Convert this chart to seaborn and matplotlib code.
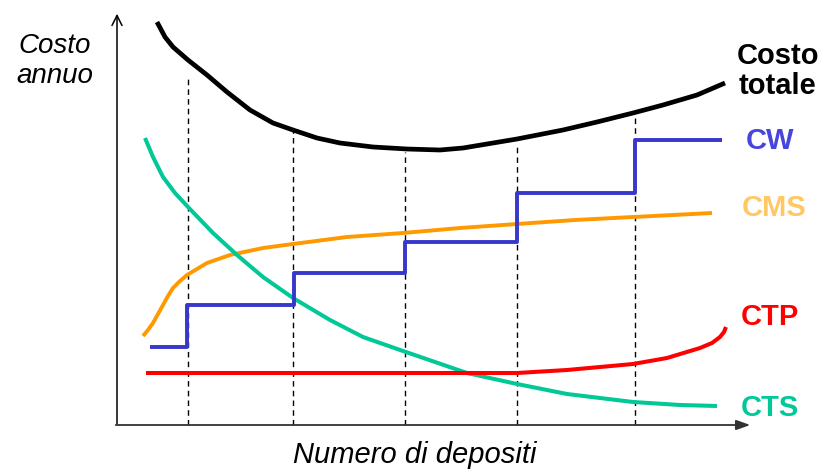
import matplotlib
matplotlib.use("Agg")
import matplotlib.pyplot as plt
import seaborn as sns
import pandas as pd

# Canvas units: x grows to the right, y grows downward (same frame as the figure)
total_x = [157, 165, 173, 188, 207, 227, 250, 273, 293, 317, 340, 373, 407, 440, 463, 517, 563, 597, 633, 663, 697, 725]
total_y = [22, 37, 47, 60, 75, 92, 110, 123, 130, 138, 143, 147, 149, 150, 148, 139, 130, 122, 113, 105, 95, 83]

cms_x = [143, 148, 153, 158, 163, 168, 173, 180, 187, 197, 207, 230, 263, 293, 347, 403, 460, 517, 575, 633, 712]
cms_y = [336, 330, 323, 314, 305, 296, 288, 281, 275, 269, 263, 255, 248, 244, 237, 233, 228, 224, 220, 217, 213]

cts_x = [145, 153, 163, 175, 188, 213, 237, 263, 293, 330, 363, 403, 435, 467, 517, 567, 633, 680, 717]
cts_y = [138, 157, 177, 193, 207, 233, 255, 277, 298, 320, 337, 351, 362, 373, 384, 394, 402, 405, 406]

ctp_x = [146, 300, 450, 517, 567, 600, 633, 667, 700, 712, 720, 724, 726]
ctp_y = [373, 373, 373, 373, 370, 367, 364, 358, 348, 343, 337, 332, 327]

cw_x = [150, 187, 294, 405, 517, 635, 722]
cw_y = [347, 305, 273, 242, 193, 140, 140]

depot_x = [188, 293, 405, 517, 635]
depot_top = [77, 125, 152, 146, 118]

labels = ["Costo\ntotale", "CW", "CMS", "CTP", "CTS"]
label_x = [778, 770, 774, 770, 770]
label_y = [71, 141, 208, 317, 408]
label_colors = ["#000000", "#4646DC", "#FFC864", "#FF0000", "#00C896"]

BLACK = "#000000"
BLUE = "#3737CC"
ORANGE = "#FF9900"
TEAL = "#00C896"
RED = "#FF0000"

sns.set_theme(style="white")
plt.rcParams["font.family"] = ["Liberation Sans", "DejaVu Sans"]

fig = plt.figure(figsize=(8.24, 4.70), dpi=100)
ax = fig.add_axes([0, 0, 1, 1])

# Dashed guides at each depot count
for x, top in zip(depot_x, depot_top):
    ax.plot([x, x], [425, top], color="black", lw=1.0, ls=(0, (4, 3)), zorder=1)

def curve(xs, ys, color, lw, **kw):
    df = pd.DataFrame({"x": xs, "y": ys})
    sns.lineplot(data=df, x="x", y="y", ax=ax, color=color, lw=lw,
                 sort=False, estimator=None, solid_capstyle="butt",
                 solid_joinstyle="round", zorder=3, **kw)

curve(total_x, total_y, BLACK, 3.4)
curve(cms_x, cms_y, ORANGE, 2.8)
curve(cts_x, cts_y, TEAL, 2.9)
curve(ctp_x, ctp_y, RED, 2.9)
curve(cw_x, cw_y, BLUE, 2.8, drawstyle="steps-post")

ax.set_xlim(0, 824)
ax.set_ylim(470, 0)
ax.axis("off")

# Axes with arrowheads
ax.annotate("", xy=(117, 11), xytext=(117, 427),
            arrowprops=dict(arrowstyle="->,head_length=0.6,head_width=0.3", color="black", lw=1.1))
ax.annotate("", xy=(753, 425), xytext=(113, 425),
            arrowprops=dict(arrowstyle="-|>,head_length=0.7,head_width=0.25", color="#333333", lw=1.3))

ax.text(55, 61, "Costo\nannuo", style="italic", fontsize=20, ha="center", va="center",
        linespacing=1.2, color="black")
ax.text(415, 455, "Numero di depositi", style="italic", fontsize=21, ha="center", va="center",
        color="black")

for txt, x, y, c in zip(labels, label_x, label_y, label_colors):
    ax.text(x, y, txt, fontsize=21, fontweight="bold", ha="center", va="center",
            color=c, linespacing=1.05)

fig.savefig("out.png", dpi=100)
